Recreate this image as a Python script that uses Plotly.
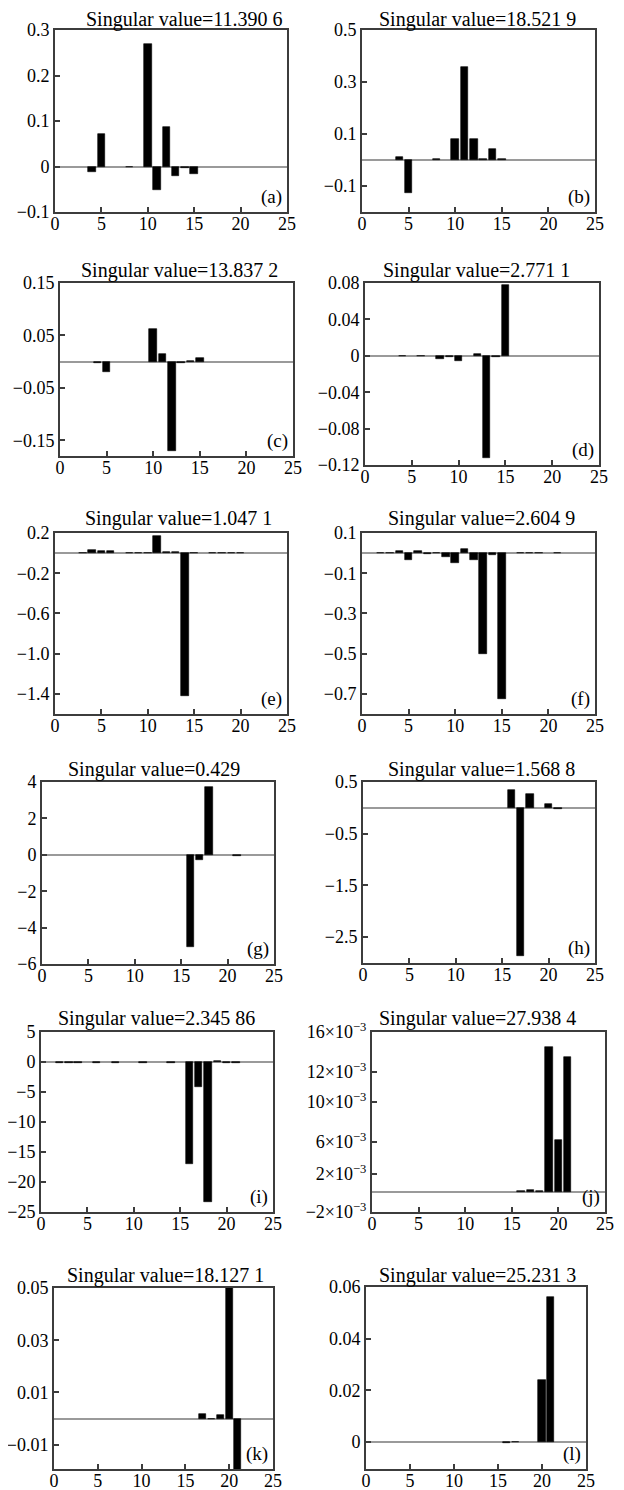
import plotly.graph_objects as go

# ---------------- data ----------------
titles = ["Singular value=11.390 6", "Singular value=18.521 9",
          "Singular value=13.837 2", "Singular value=2.771 1",
          "Singular value=1.047 1", "Singular value=2.604 9",
          "Singular value=0.429", "Singular value=1.568 8",
          "Singular value=2.345 86", "Singular value=27.938 4",
          "Singular value=18.127 1", "Singular value=25.231 3"]
panel_labels = ["(a)", "(b)", "(c)", "(d)", "(e)", "(f)",
                "(g)", "(h)", "(i)", "(j)", "(k)", "(l)"]

a_x = [4, 5, 8, 10, 11, 12, 13, 14, 15]
a_y = [-0.013, 0.072, -0.002, 0.27, -0.052, 0.087, -0.02, -0.003, -0.016]
b_x = [4, 5, 8, 10, 11, 12, 13, 14, 15]
b_y = [0.012, -0.126, 0.002, 0.080, 0.358, 0.080, 0.002, 0.042, 0.004]
c_x = [4, 5, 10, 11, 12, 13, 14, 15]
c_y = [-0.003, -0.020, 0.063, 0.015, -0.170, -0.002, 0.001, 0.007]
d_x = [4, 6, 8, 9, 10, 12, 13, 14, 15]
d_y = [-0.0006, -0.0006, -0.003, -0.001, -0.0055, 0.002, -0.112, -0.001, 0.078]
e_x = [3, 4, 5, 6, 8, 9, 10, 11, 12, 13, 14, 15, 17, 18, 19, 20]
e_y = [0.004, 0.03, 0.02, 0.02, 0.004, 0.004, 0.004, 0.175, 0.01, 0.01,
       -1.42, 0.006, 0.004, 0.004, 0.004, 0.004]
f_x = [2, 3, 4, 5, 6, 7, 8, 9, 10, 11, 12, 13, 14, 15, 17, 18, 19, 21]
f_y = [0.002, 0.002, 0.012, -0.033, 0.012, -0.003, 0.002, -0.017, -0.05,
       0.021, -0.035, -0.50, -0.008, -0.724, 0.002, 0.002, 0.002, 0.002]
g_x = [16, 17, 18, 21]
g_y = [-5.07, -0.31, 3.74, -0.05]
h_x = [16, 17, 18, 20, 21]
h_y = [0.346, -2.86, 0.263, 0.083, -0.02]
i_x = [2, 3, 4, 6, 8, 11, 14, 16, 17, 18, 19, 20, 21]
i_y = [-0.12, -0.12, -0.12, -0.12, -0.12, -0.12, -0.12,
       -17.05, -4.15, -23.25, 0.2, -0.12, -0.12]
j_x = [16, 17, 18, 19, 20, 21]
j_y = [0.0001, 0.0002, 0.0001, 0.01446, 0.0052, 0.0135]
k_x = [17, 18, 19, 20, 21]
k_y = [0.0019, -0.0003, 0.0012, 0.0499, -0.025]
l_x = [16, 17, 20, 21]
l_y = [-0.0003, 0.0002, 0.0239, 0.0561]

x_ticks = [0, 5, 10, 15, 20, 25]

a_ticks = [0.3, 0.2, 0.1, 0, -0.1]
a_text = ["0.3", "0.2", "0.1", "0", "−0.1"]
b_ticks = [0.5, 0.3, 0.1, -0.1]
b_text = ["0.5", "0.3", "0.1", "−0.1"]
c_ticks = [0.15, 0.05, -0.05, -0.15]
c_text = ["0.15", "0.05", "−0.05", "−0.15"]
d_ticks = [0.08, 0.04, 0, -0.04, -0.08, -0.12]
d_text = ["0.08", "0.04", "0", "−0.04", "−0.08", "−0.12"]
e_ticks = [0.2, -0.2, -0.6, -1.0, -1.4]
e_text = ["0.2", "−0.2", "−0.6", "−1.0", "−1.4"]
f_ticks = [0.1, -0.1, -0.3, -0.5, -0.7]
f_text = ["0.1", "−0.1", "−0.3", "−0.5", "−0.7"]
g_ticks = [4, 2, 0, -2, -4, -6]
g_text = ["4", "2", "0", "−2", "−4", "−6"]
h_ticks = [0.5, -0.5, -1.5, -2.5]
h_text = ["0.5", "−0.5", "−1.5", "−2.5"]
i_ticks = [5, 0, -5, -10, -15, -20, -25]
i_text = ["5", "0", "−5", "−10", "−15", "−20", "−25"]
j_ticks = [0.016, 0.012, 0.009, 0.005, 0.0018, -0.002]
j_text = ["16×10<sup>−3</sup>", "12×10<sup>−3</sup>", "10×10<sup>−3</sup>",
          "6×10<sup>−3</sup>", "2×10<sup>−3</sup>", "−2×10<sup>−3</sup>"]
k_ticks = [0.05, 0.03, 0.01, -0.01]
k_text = ["0.05", "0.03", "0.01", "−0.01"]
l_ticks = [0.06, 0.04, 0.02, 0]
l_text = ["0.06", "0.04", "0.02", "0"]

# ---------------- layout geometry (page pixels) ----------------
PAGE_W, PAGE_H = 624, 1490
OFF = 8                      # default body margin of the html page
W, H = PAGE_W - OFF, PAGE_H - OFF
FONT = "Liberation Serif"


def px_x(v):
    return (v - OFF) / W


def px_y(v):
    return 1 - (v - OFF) / H


panels = [
    # x, y, yrange, ticks, text, (left, right, top, bottom), title center x, title y
    (a_x, a_y, [-0.1, 0.3], a_ticks, a_text, (55, 287, 30, 212), 184, 19),
    (b_x, b_y, [-0.2, 0.5], b_ticks, b_text, (362, 595, 30, 212), 477, 19),
    (c_x, c_y, [-0.18, 0.15], c_ticks, c_text, (60, 293, 283, 456), 179, 270),
    (d_x, d_y, [-0.12, 0.08], d_ticks, d_text, (365, 599, 283, 465), 476, 270),
    (e_x, e_y, [-1.6, 0.2], e_ticks, e_text, (55, 287, 533, 714), 178, 518),
    (f_x, f_y, [-0.8, 0.1], f_ticks, f_text, (362, 595, 533, 714), 481, 518),
    (g_x, g_y, [-6, 4], g_ticks, g_text, (42, 274, 782, 964), 154, 769),
    (h_x, h_y, [-3.0, 0.5], h_ticks, h_text, (363, 595, 782, 963), 481, 769),
    (i_x, i_y, [-25, 5], i_ticks, i_text, (41, 273, 1032, 1212), 156, 1018),
    (j_x, j_y, [-0.002, 0.016], j_ticks, j_text, (372, 605, 1032, 1212), 477, 1018),
    (k_x, k_y, [-0.0193, 0.05], k_ticks, k_text, (54, 273, 1288, 1469), 165, 1275),
    (l_x, l_y, [-0.0104, 0.06], l_ticks, l_text, (366, 586, 1287, 1469), 477, 1275),
]

fig = go.Figure()
layout = {}
annotations = []

for idx, (xs, ys, yr, yt, ytt, box, tcx, tcy) in enumerate(panels, start=1):
    L, R, T, B = box
    sfx = "" if idx == 1 else str(idx)
    fig.add_trace(go.Bar(
        x=xs, y=ys, width=0.8,
        xaxis="x" + sfx, yaxis="y" + sfx,
        marker=dict(color="black", line=dict(color="black", width=0.6)),
        showlegend=False, hoverinfo="x+y",
    ))
    axis_common = dict(
        showline=True, mirror=True, linecolor="#3c3c3c", linewidth=2,
        showgrid=False, ticks="inside", ticklen=5, tickwidth=1.5,
        tickcolor="#3c3c3c", automargin=False,
        tickfont=dict(family=FONT, size=18, color="black"),
        fixedrange=True,
    )
    layout["xaxis" + sfx] = dict(
        axis_common, domain=[px_x(L), px_x(R)], anchor="y" + sfx,
        range=[0, 25], tickmode="array", tickvals=x_ticks,
        ticktext=[str(v) for v in x_ticks], zeroline=False,
        ticklabelstandoff=-6,
    )
    layout["yaxis" + sfx] = dict(
        axis_common, domain=[px_y(B), px_y(T)], anchor="x" + sfx,
        range=yr, tickmode="array", tickvals=yt, ticktext=ytt,
        zeroline=True, zerolinecolor="#9a9a9a", zerolinewidth=1.5,
        ticklabelstandoff=0,
    )
    annotations.append(dict(
        text=titles[idx - 1], x=px_x(tcx), y=px_y(tcy),
        xref="paper", yref="paper", xanchor="center", yanchor="middle",
        showarrow=False, borderpad=0,
        font=dict(family=FONT, size=20, color="black"),
    ))
    annotations.append(dict(
        text=panel_labels[idx - 1], x=px_x(R - 3), y=px_y(B - 2),
        xref="paper", yref="paper", xanchor="right", yanchor="bottom",
        showarrow=False, font=dict(family=FONT, size=19, color="black"),
    ))

fig.update_layout(
    **layout,
    annotations=annotations,
    width=W, height=H,
    margin=dict(l=0, r=0, t=0, b=0),
    paper_bgcolor="white", plot_bgcolor="white",
    bargap=0,
)

fig.write_html("out.html")
